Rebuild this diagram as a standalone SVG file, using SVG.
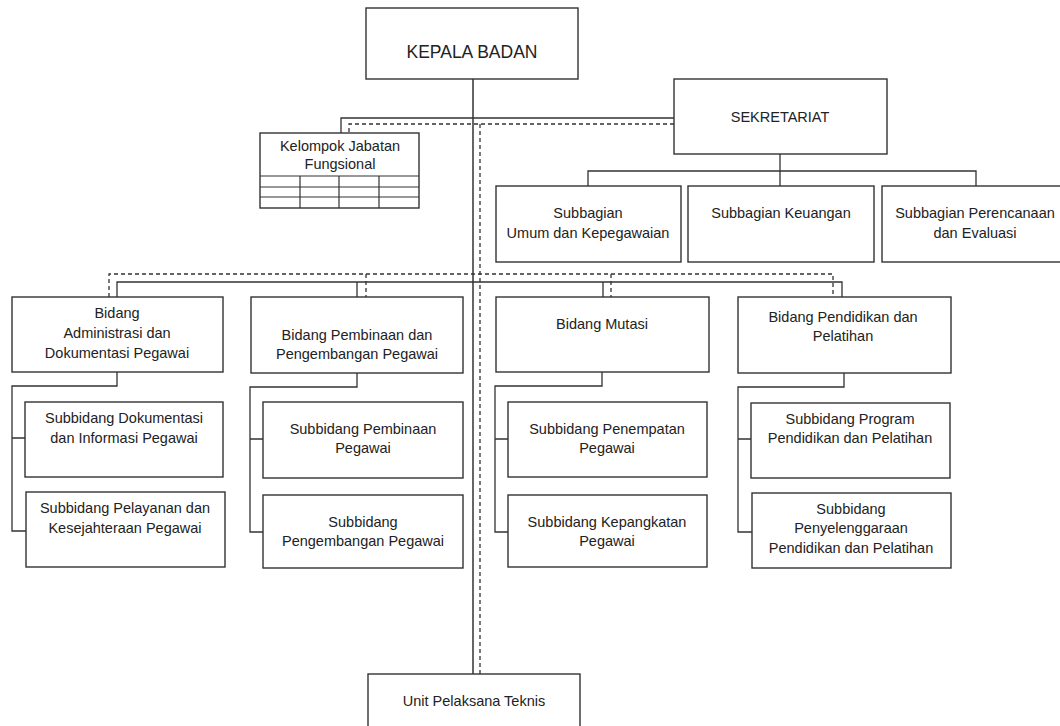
<svg xmlns="http://www.w3.org/2000/svg" width="1060" height="726" viewBox="0 0 1060 726">
<style>
.box{fill:#fff;stroke:#333;stroke-width:1.4}
.ln{fill:none;stroke:#333;stroke-width:1.3}
.main{fill:none;stroke:#666;stroke-width:2}
.dash{fill:none;stroke:#333;stroke-width:1.3;stroke-dasharray:4 3}
.grid{fill:none;stroke:#333;stroke-width:1.2}
text{font-family:"Liberation Sans",Arial,sans-serif;font-size:14.5px;fill:#222;text-anchor:middle}
</style>
<rect width="1060" height="726" fill="#fff"/>
<g id="connectors">
<path class="main" d="M473,79 V674"/>
<path class="ln" d="M341,133 V118 H674"/>
<path class="ln" d="M780,154 V186 M588,186 V171 H976 V186"/>
<path class="ln" d="M117,297 V282 H842 V297 M357,282 V297 M603,282 V297"/>
<path class="ln" d="M117,372 V386 H12 V531 H26 M12,438 H25"/>
<path class="ln" d="M357,373 V387 H250 V532 H263 M250,439 H263"/>
<path class="ln" d="M602,372 V386 H495 V532 H508 M495,439 H508"/>
<path class="ln" d="M844,373 V387 H738 V532 H752 M738,439 H751"/>
<path class="dash" d="M674,124 H349 V133"/>
<path class="dash" d="M480,124 V674"/>
<path class="dash" d="M109,297 V274 H833 V297 M366,274 V297 M611,274 V297"/>
</g>
<g id="kepala-badan"><rect class="box" x="366" y="8" width="212" height="71"/><text x="472" y="58" style="font-size:17.5px">KEPALA BADAN</text></g>
<g id="sekretariat"><rect class="box" x="674" y="79" width="213" height="75"/><text x="780" y="122">SEKRETARIAT</text></g>
<g id="kelompok-jabatan"><rect class="box" x="260" y="133" width="159" height="75"/>
<path class="grid" d="M260,176 H419 M260,187 H419 M260,197 H419 M300,176 V208 M339,176 V208 M379,176 V208"/>
<text x="340" y="151">Kelompok Jabatan</text><text x="340" y="169">Fungsional</text></g>
<g id="subbagian-umum"><rect class="box" x="496" y="186" width="185" height="76"/><text x="588" y="218">Subbagian</text><text x="588" y="238">Umum dan Kepegawaian</text></g>
<g id="subbagian-keuangan"><rect class="box" x="688" y="186" width="186" height="76"/><text x="781" y="218">Subbagian Keuangan</text></g>
<g id="subbagian-perencanaan"><rect class="box" x="882" y="186" width="188" height="76"/><text x="975" y="218">Subbagian Perencanaan</text><text x="975" y="238">dan Evaluasi</text></g>
<g id="bidang-administrasi"><rect class="box" x="12" y="297" width="211" height="75"/><text x="117" y="318">Bidang</text><text x="117" y="338">Administrasi dan</text><text x="117" y="358">Dokumentasi Pegawai</text></g>
<g id="bidang-pembinaan"><rect class="box" x="251" y="297" width="212" height="76"/><text x="357" y="340">Bidang Pembinaan dan</text><text x="357" y="359">Pengembangan Pegawai</text></g>
<g id="bidang-mutasi"><rect class="box" x="496" y="297" width="213" height="75"/><text x="602" y="329">Bidang Mutasi</text></g>
<g id="bidang-pendidikan"><rect class="box" x="738" y="297" width="213" height="76"/><text x="843" y="322">Bidang Pendidikan dan</text><text x="843" y="341">Pelatihan</text></g>
<g id="subbidang-dokumentasi"><rect class="box" x="25" y="402" width="198" height="75"/><text x="124" y="423">Subbidang Dokumentasi</text><text x="124" y="443">dan Informasi Pegawai</text></g>
<g id="subbidang-pelayanan"><rect class="box" x="26" y="492" width="199" height="75"/><text x="125" y="513">Subbidang Pelayanan dan</text><text x="125" y="533">Kesejahteraan Pegawai</text></g>
<g id="subbidang-pembinaan"><rect class="box" x="263" y="402" width="200" height="76"/><text x="363" y="434">Subbidang Pembinaan</text><text x="363" y="453">Pegawai</text></g>
<g id="subbidang-pengembangan"><rect class="box" x="263" y="495" width="200" height="73"/><text x="363" y="527">Subbidang</text><text x="363" y="546">Pengembangan Pegawai</text></g>
<g id="subbidang-penempatan"><rect class="box" x="508" y="402" width="199" height="75"/><text x="607" y="434">Subbidang Penempatan</text><text x="607" y="453">Pegawai</text></g>
<g id="subbidang-kepangkatan"><rect class="box" x="508" y="495" width="199" height="72"/><text x="607" y="527">Subbidang Kepangkatan</text><text x="607" y="546">Pegawai</text></g>
<g id="subbidang-program"><rect class="box" x="751" y="403" width="199" height="75"/><text x="850" y="424">Subbidang Program</text><text x="850" y="443">Pendidikan dan Pelatihan</text></g>
<g id="subbidang-penyelenggaraan"><rect class="box" x="752" y="493" width="199" height="75"/><text x="851" y="514">Subbidang</text><text x="851" y="533">Penyelenggaraan</text><text x="851" y="553">Pendidikan dan Pelatihan</text></g>
<g id="unit-pelaksana-teknis"><rect class="box" x="368" y="674" width="212" height="60"/><text x="474" y="706">Unit Pelaksana Teknis</text></g>
</svg>
